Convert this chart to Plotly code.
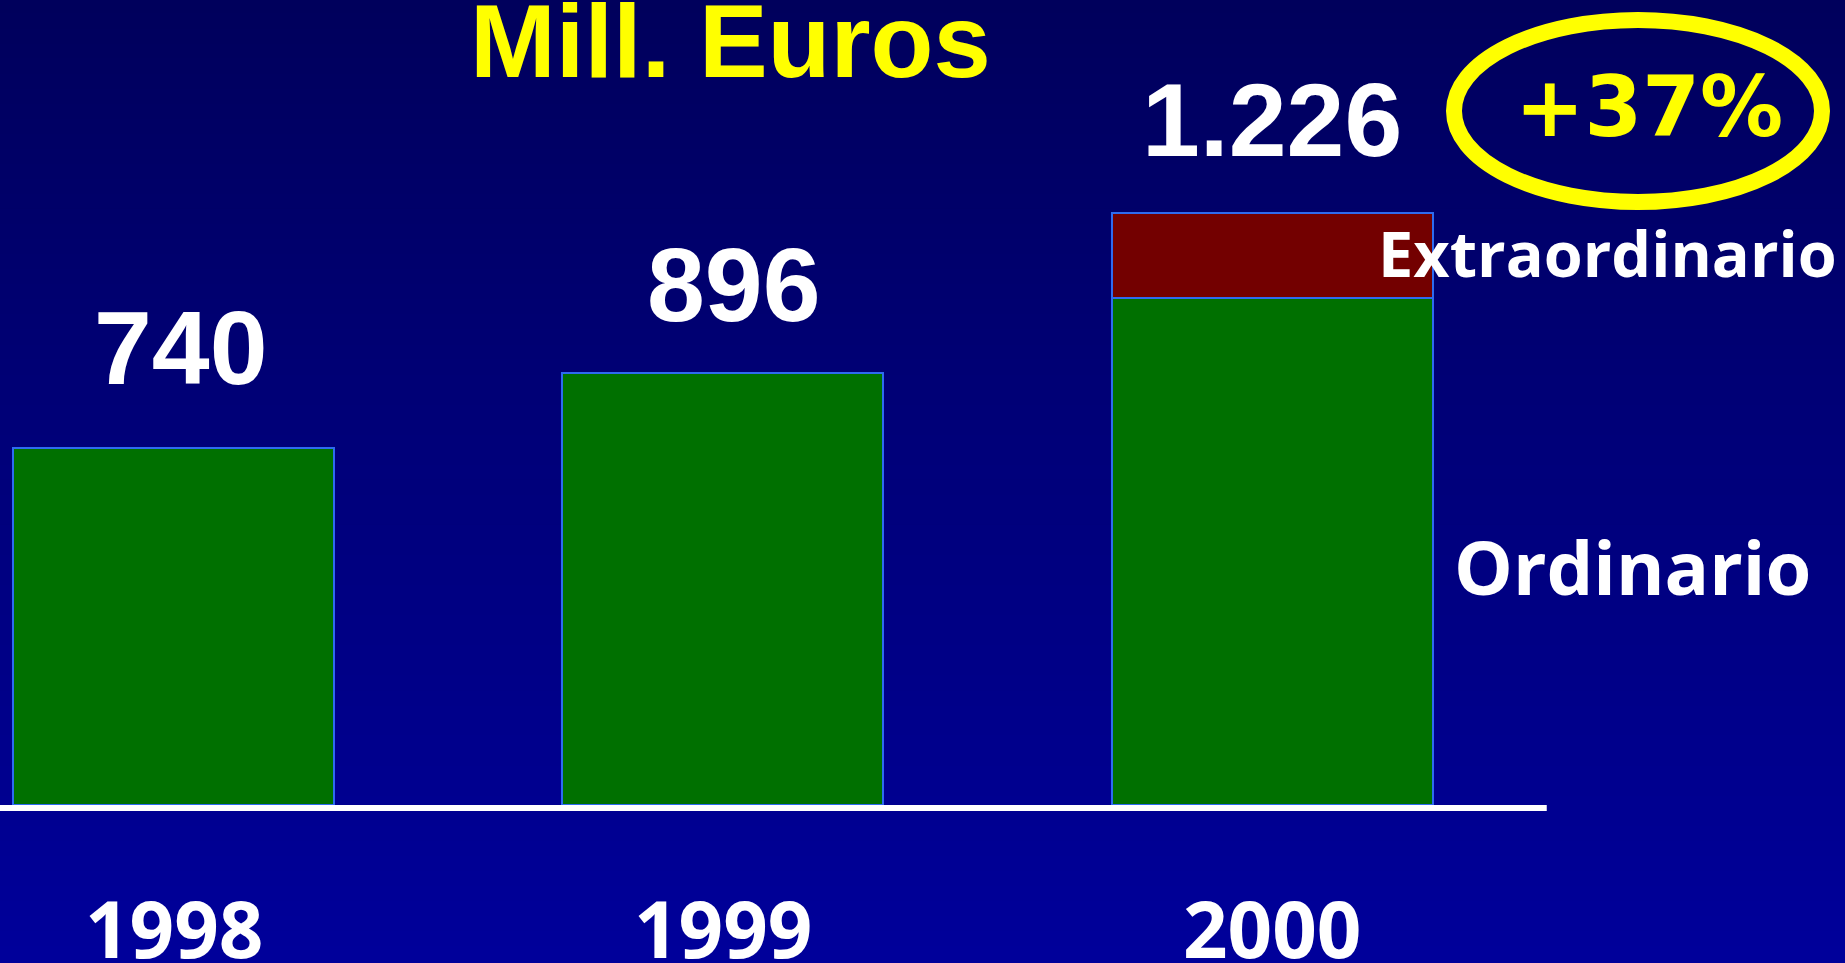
import plotly.graph_objects as go

# ---------------- data ----------------
categories = ["1998", "1999", "2000"]
ordinario = [740, 896, 1051]
extraordinario = [None, None, 175]
series_names = ["Ordinario", "Extraordinario"]
title_text = "Mill. Euros"

totals = [o + (e or 0) for o, e in zip(ordinario, extraordinario)]
total_labels = [f"{v:,}".replace(",", ".") for v in totals]
growth = round((totals[-1] / totals[-2] - 1) * 100)
growth_label = f"+{growth}%"

# ---------------- style / geometry ----------------
W, H = 1845, 963
PX_PER_CAT = 549.3
FIRST_CENTER = 173.5
ZERO_Y = 805
PX_PER_UNIT = 0.4826

x_range = [-FIRST_CENTER / PX_PER_CAT, (W - FIRST_CENTER) / PX_PER_CAT]
y_range = [-(H - ZERO_Y) / PX_PER_UNIT, ZERO_Y / PX_PER_UNIT]

GREEN = "#007000"
RED = "#730000"
OUTLINE = "#2E6BF0"
YELLOW = "#FFFF00"
WHITE = "#FFFFFF"

SANS_B = "Liberation Sans, Arial, sans-serif"
OPEN_B = "Open Sans, Noto Sans, sans-serif"
DEJAVU_B = "DejaVu Sans, sans-serif"


def py(pix):
    """pixel-from-top -> paper y"""
    return 1 - pix / H


def px(pix):
    return pix / W


fig = go.Figure()
fig.add_trace(go.Bar(
    x=categories, y=ordinario, name=series_names[0],
    marker=dict(color=GREEN, line=dict(color=OUTLINE, width=2)),
    width=0.584, hoverinfo="x+y+name",
))
fig.add_trace(go.Bar(
    x=categories, y=extraordinario, name=series_names[1],
    marker=dict(color=RED, line=dict(color=OUTLINE, width=2)),
    width=0.584, hoverinfo="x+y+name",
))

shapes = []
# vertical gradient background
top_c, bot_c = 0x5C, 0x9A
n = 64
for i in range(n):
    t = (i + 0.5) / n
    c = round(top_c + (bot_c - top_c) * t)
    shapes.append(dict(
        type="rect", xref="paper", yref="paper", layer="below",
        x0=0, x1=1, y0=1 - i / n + 0.002, y1=1 - (i + 1) / n - 0.002,
        fillcolor=f"rgb(0,0,{c})", line=dict(width=0),
    ))
# white baseline
shapes.append(dict(
    type="rect", xref="x", yref="y", layer="above",
    x0=-0.5, x1=2.5, y0=0, y1=-6 / PX_PER_UNIT,
    fillcolor=WHITE, line=dict(width=0),
))
# yellow ellipse
shapes.append(dict(
    type="circle", xref="paper", yref="paper",
    x0=px(1454), x1=px(1822), y0=py(202), y1=py(20),
    line=dict(color=YELLOW, width=16), fillcolor="rgba(0,0,0,0)",
))

annotations = []
# title
annotations.append(dict(
    text=title_text, xref="paper", yref="paper", x=px(730), y=py(41),
    xanchor="center", yanchor="middle", showarrow=False,
    font=dict(family=SANS_B, size=103, color=YELLOW, weight="bold"),
))
# value labels (category axis positions are the category indices)
label_xshift = [7.5, 11, 0]
label_yshift = [100, 88, 93]
for i, (tot, lab, dx, dy) in enumerate(zip(totals, total_labels, label_xshift, label_yshift)):
    annotations.append(dict(
        text=lab, xref="x", yref="y", x=i, y=tot,
        xanchor="center", yanchor="middle", xshift=dx, yshift=dy,
        showarrow=False,
        font=dict(family=SANS_B, size=104, color=WHITE, weight="bold"),
    ))
# growth label
annotations.append(dict(
    text=growth_label, xref="paper", yref="paper", x=px(1649), y=py(107),
    xanchor="center", yanchor="middle", showarrow=False,
    font=dict(family=DEJAVU_B, size=83, color=YELLOW, weight="bold"),
))
# series labels
annotations.append(dict(
    text=series_names[1], xref="paper", yref="paper", x=px(1607), y=py(252),
    xanchor="center", yanchor="middle", showarrow=False,
    font=dict(family=OPEN_B, size=63, color=WHITE, weight="bold"),
))
annotations.append(dict(
    text=series_names[0], xref="paper", yref="paper", x=px(1632.5), y=py(566),
    xanchor="center", yanchor="middle", showarrow=False,
    font=dict(family=OPEN_B, size=74, color=WHITE, weight="bold"),
))
# category labels
for i, cat in enumerate(categories):
    annotations.append(dict(
        text=cat, xref="x", yref="paper", x=i, y=py(928),
        xanchor="center", yanchor="middle", showarrow=False,
        font=dict(family=OPEN_B, size=78, color=WHITE, weight="bold"),
    ))

fig.update_layout(
    width=W, height=H,
    margin=dict(l=0, r=0, t=0, b=0, pad=0),
    barmode="stack",
    showlegend=False,
    paper_bgcolor="#00007A",
    plot_bgcolor="rgba(0,0,0,0)",
    shapes=shapes,
    annotations=annotations,
    xaxis=dict(type="category", range=x_range, visible=False, fixedrange=True),
    yaxis=dict(range=y_range, visible=False, fixedrange=True),
)

fig.write_html(
    "out.html",
    config={"displayModeBar": False},
    post_script="document.body.style.margin='0';document.body.style.overflow='hidden';",
)
